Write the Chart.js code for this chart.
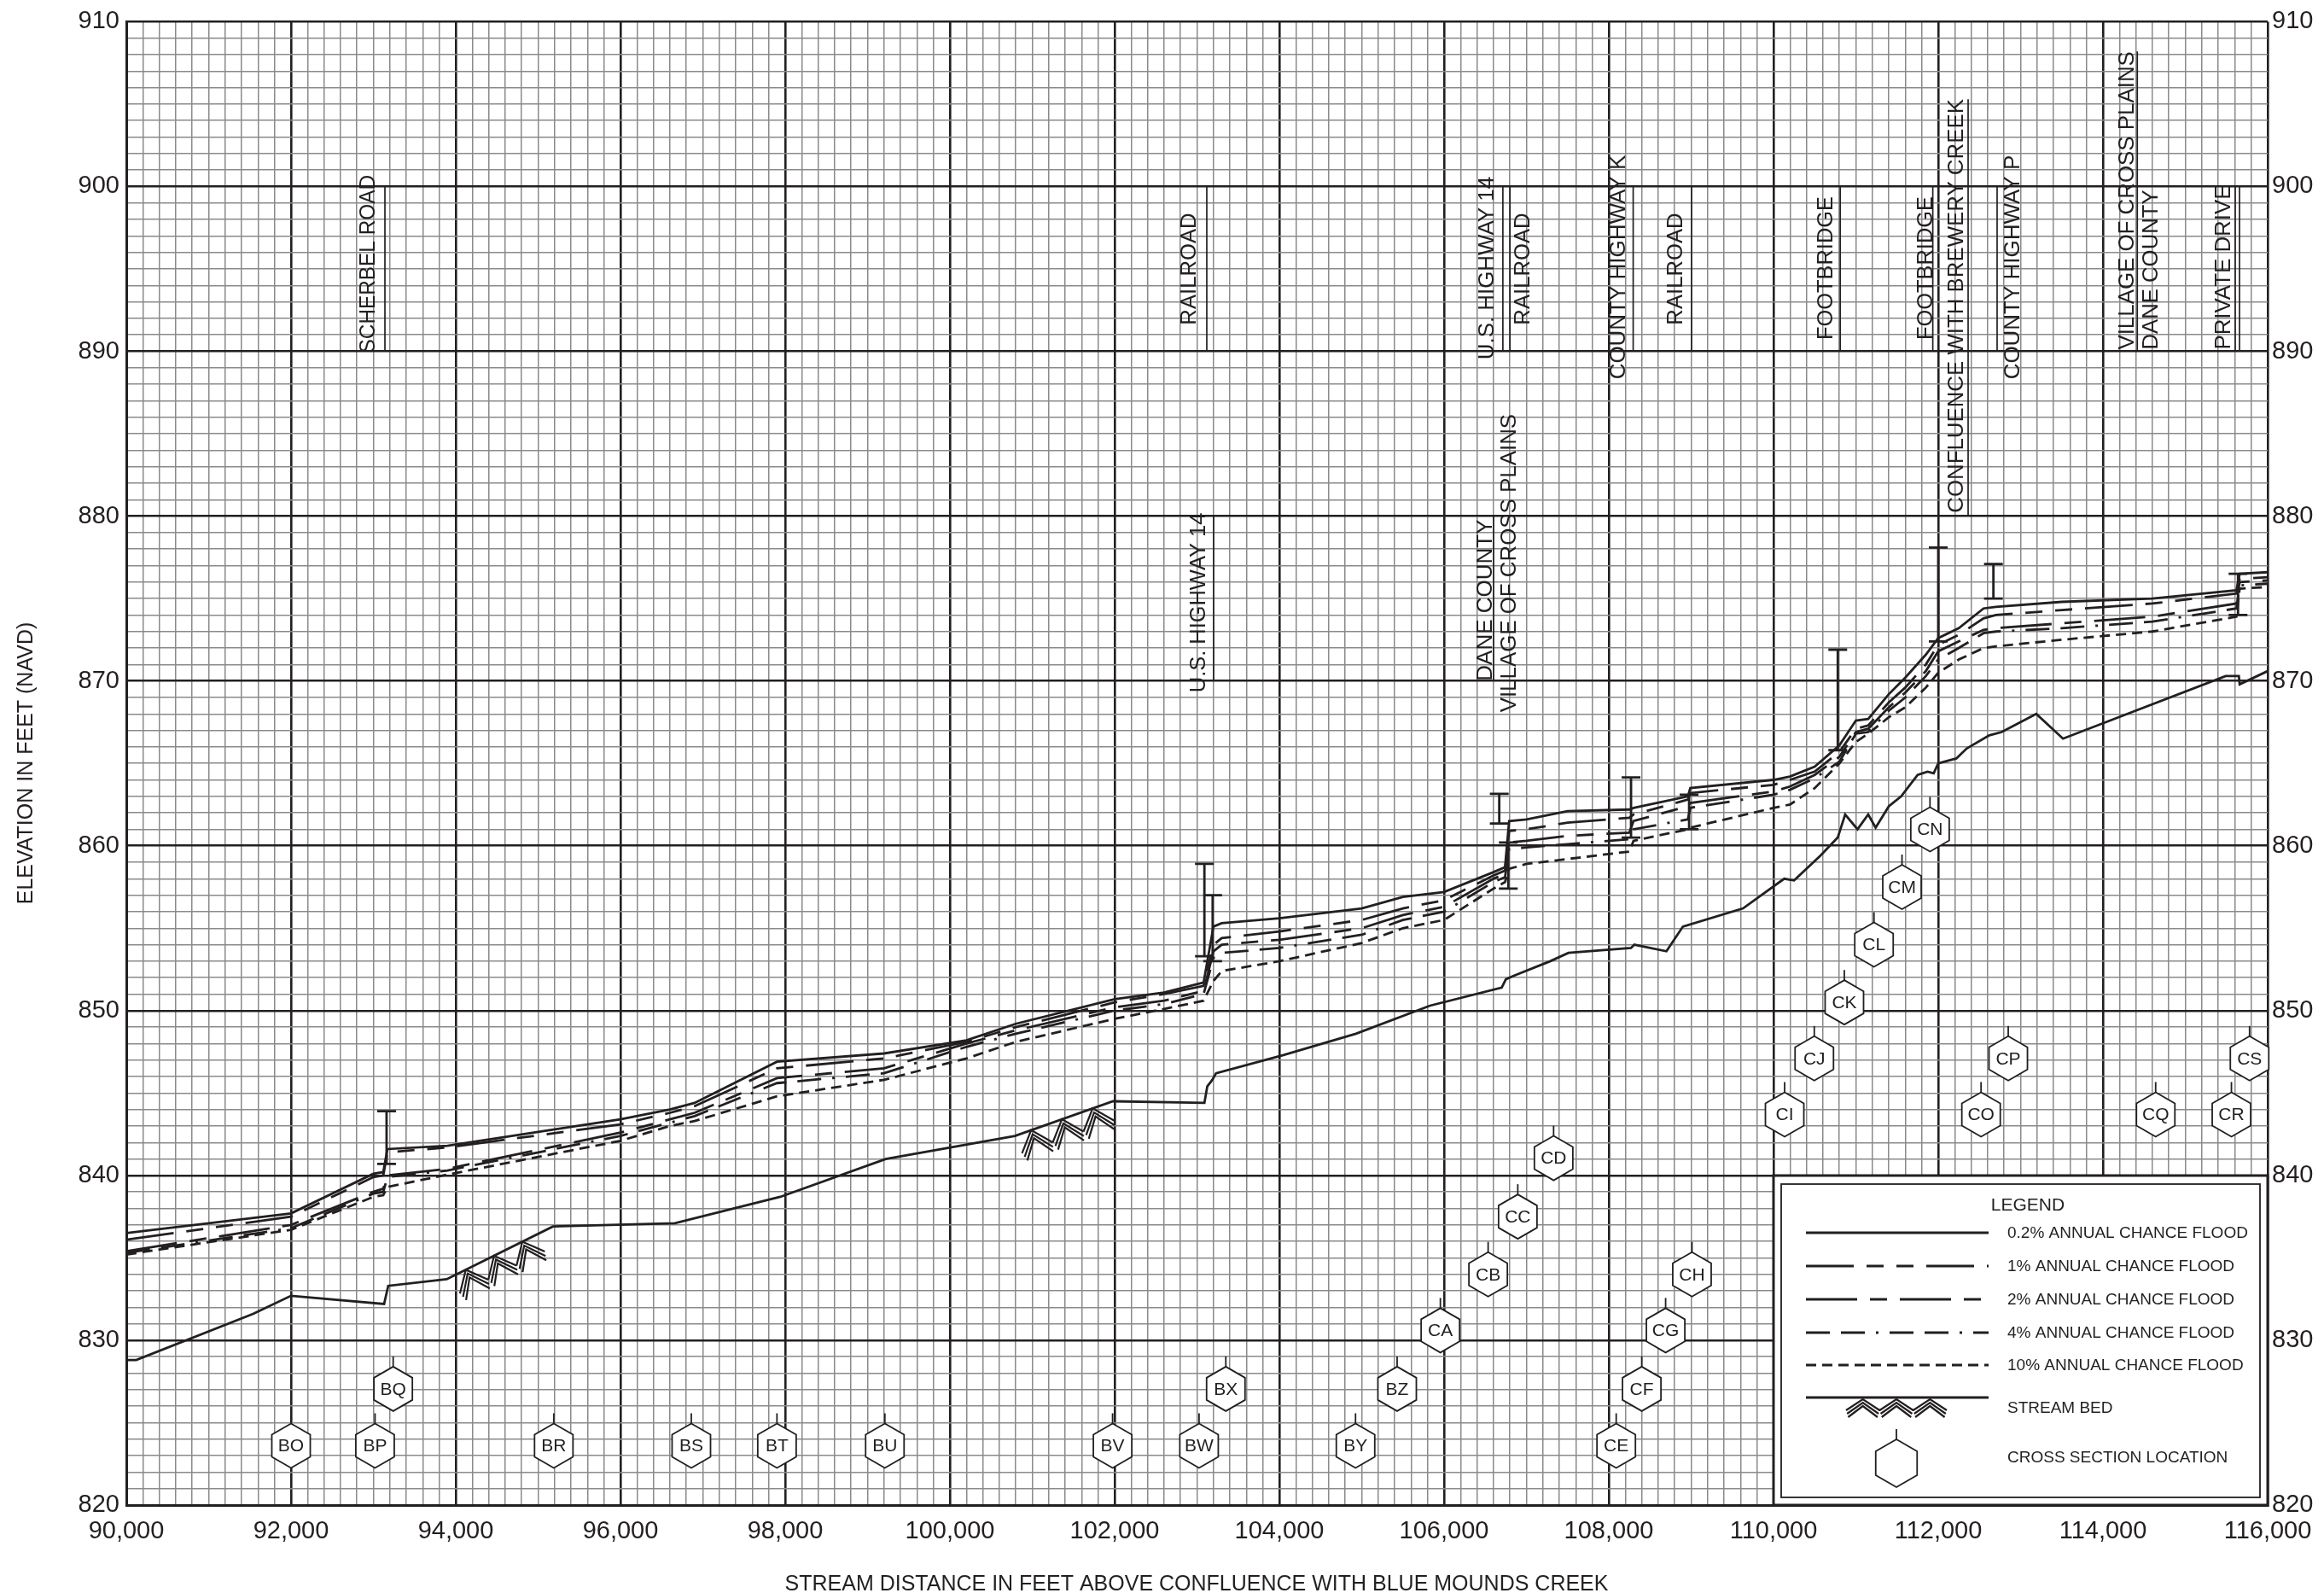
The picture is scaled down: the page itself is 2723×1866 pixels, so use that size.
<!DOCTYPE html>
<html>
<head>
<meta charset="utf-8">
<title>Flood Profile - Stream Distance 90,000 to 116,000</title>
<script src="https://cdn.jsdelivr.net/npm/chart.js@4.4.1/dist/chart.umd.min.js"></script>
<style>
  html, body { margin: 0; padding: 0; background: #ffffff; }
  #wrap { width: 2723px; height: 1866px; }
</style>
</head>
<body>
<div id="wrap"><canvas id="profileChart" width="2723" height="1866"></canvas></div>
<script>
// profile stations (feet above confluence) shared by the five flood profiles
const profX = [90000, 92000, 93000, 93120, 93170, 93900, 96000, 96600, 96900, 97900,
  99200, 100200, 100800, 102000, 102600, 103080, 103200, 103300, 104000, 105000,
  105500, 106000, 106600, 106740, 106790, 107000, 107500, 108250, 108300, 108960,
  108990, 110000, 110200, 110500, 110800, 111000, 111150, 111400, 111600, 111850,
  112000, 112250, 112550, 112700, 113500, 114600, 115620, 115660, 116000];

const flood02 = [836.5, 837.7, 840.1, 840.2, 841.6, 841.8, 843.4, 844.0, 844.4, 846.9,
  847.4, 848.2, 849.2, 850.7, 851.1, 851.7, 855.1, 855.3, 855.6, 856.2,
  856.9, 857.2, 858.4, 858.7, 861.5, 861.6, 862.1, 862.2, 862.3, 863.0,
  863.5, 864.0, 864.2, 864.8, 866.1, 867.6, 867.7, 869.2, 870.2, 871.6,
  872.6, 873.2, 874.4, 874.5, 874.8, 875.0, 875.5, 876.5, 876.6];

const flood1 = [836.1, 837.5, 839.9, 840.0, 841.4, 841.7, 843.1, 843.8, 844.2, 846.5,
  847.1, 848.1, 849.0, 850.5, 851.0, 851.5, 854.0, 854.4, 854.8, 855.5,
  856.2, 856.7, 858.2, 858.5, 860.9, 861.0, 861.4, 861.7, 861.9, 862.8,
  863.2, 863.7, 864.0, 864.5, 865.7, 867.1, 867.3, 868.7, 869.6, 871.0,
  872.2, 872.8, 873.8, 874.0, 874.3, 874.7, 875.3, 876.2, 876.3];

const flood2 = [835.4, 837.0, 839.0, 839.2, 840.0, 840.4, 842.6, 843.4, 843.8, 845.9,
  846.5, 848.0, 848.8, 850.2, 850.6, 851.2, 853.6, 854.0, 854.3, 855.0,
  855.8, 856.3, 858.0, 858.3, 860.2, 860.3, 860.6, 860.8, 861.5, 862.4,
  862.6, 863.3, 863.6, 864.3, 865.4, 866.9, 867.1, 868.4, 869.3, 870.6,
  871.8, 872.4, 873.1, 873.2, 873.5, 873.9, 874.7, 876.0, 876.1];

const flood4 = [835.3, 836.8, 838.9, 839.0, 839.9, 840.3, 842.4, 843.2, 843.6, 845.6,
  846.2, 847.8, 848.6, 850.0, 850.4, 851.0, 853.2, 853.5, 853.8, 854.6,
  855.5, 856.0, 857.8, 858.1, 859.8, 859.9, 860.1, 860.4, 861.0, 861.6,
  862.3, 863.1, 863.4, 864.1, 865.1, 866.8, 866.9, 868.2, 869.0, 870.3,
  871.3, 872.0, 872.9, 873.0, 873.2, 873.6, 874.4, 875.8, 875.9];

const flood10 = [835.2, 836.7, 838.7, 838.8, 839.3, 840.05, 842.1, 843.0, 843.3, 844.8,
  845.8, 847.1, 848.1, 849.5, 850.1, 850.6, 851.8, 852.4, 853.0, 854.1,
  855.0, 855.5, 857.4, 857.8, 858.6, 858.9, 859.2, 859.65, 860.3, 861.0,
  861.1, 862.3, 862.5, 863.5, 865.0, 866.3, 866.8, 867.8, 868.4, 869.6,
  870.5, 871.3, 872.0, 872.1, 872.5, 873.0, 873.9, 875.6, 875.7];

// stream bed
const bedX = [90000, 90120, 91540, 92000, 93130, 93180, 93890, 95180, 96660, 97940,
  99220, 100790, 101980, 103090, 103125, 103186, 103232, 104050, 104930, 105830,
  106700, 106750, 106840, 107290, 107510, 108270, 108310, 108700, 108900, 109630,
  110130, 110250, 110570, 110780, 110870, 111020, 111150, 111240, 111400, 111550,
  111750, 111870, 111945, 112000, 112220, 112345, 112620, 112770, 113190, 113515,
  115490, 115650, 115660, 116000];
const bedY = [828.8, 828.8, 831.6, 832.7, 832.2, 833.3, 833.7, 836.9, 837.1, 838.7,
  841.0, 842.4, 844.5, 844.4, 845.4, 845.8, 846.2, 847.3, 848.6, 850.3,
  851.4, 851.9, 852.1, 853.0, 853.5, 853.8, 854.0, 853.6, 855.1, 856.2,
  858.0, 857.9, 859.4, 860.5, 861.9, 861.0, 861.9, 861.1, 862.4, 863.0,
  864.3, 864.5, 864.4, 865.0, 865.3, 865.9, 866.7, 866.9, 868.0, 866.5,
  870.3, 870.3, 869.8, 870.6];

// stream bed symbols (start / end stations)
const hatchFrom = [93950, 100800];
const hatchTo = [94980, 101920];

// axis tick labels
const xTickLabels = [90000, 92000, 94000, 96000, 98000, 100000, 102000, 104000, 106000, 108000, 110000, 112000, 114000, 116000];
const yTickLabels = [820, 830, 840, 850, 860, 870, 880, 890, 900, 910];

// cross sections
const sectionIds = ['BO', 'BP', 'BQ', 'BR', 'BS', 'BT', 'BU', 'BV', 'BW', 'BX', 'BY', 'BZ',
  'CA', 'CB', 'CC', 'CD', 'CE', 'CF', 'CG', 'CH', 'CI', 'CJ', 'CK', 'CL', 'CM', 'CN',
  'CO', 'CP', 'CQ', 'CR', 'CS'];
const sectionX = [92000, 93020, 93240, 95190, 96860, 97900, 99210, 101975, 103025, 103350, 104925, 105430,
  105955, 106535, 106895, 107330, 108090, 108400, 108690, 109010, 110135, 110495, 110860, 111220, 111560, 111900,
  112520, 112850, 114640, 115560, 115780];
const sectionElev = [823.6, 823.6, 827.05, 823.6, 823.6, 823.6, 823.6, 823.6, 823.6, 827.05, 823.6, 827.05,
  830.6, 834.0, 837.5, 841.05, 823.6, 827.05, 830.6, 834.0, 843.7, 847.1, 850.5, 854.0, 857.5, 861.0,
  843.7, 847.1, 843.7, 843.7, 847.1];

// structures drawn as I-bars
const bridgeX = [93160, 103090, 103190, 106670, 106780, 108270, 108975, 110780, 112000, 112670, 115640];
const bridgeTop = [843.9, 858.9, 857.0, 863.15, 860.2, 864.15, 863.1, 871.9, 878.1, 877.1, 876.5];
const bridgeBottom = [840.7, 853.3, 853.0, 861.35, 857.4, 860.5, 861.0, 865.8, 872.4, 875.0, 874.0];

// structure / limit labels
const labelText = ['SCHERBEL ROAD', 'RAILROAD', 'U.S. HIGHWAY 14', 'U.S. HIGHWAY 14', 'RAILROAD',
  'DANE COUNTY', 'VILLAGE OF CROSS PLAINS', 'COUNTY HIGHWAY K', 'RAILROAD', 'FOOTBRIDGE',
  'FOOTBRIDGE', 'CONFLUENCE WITH BREWERY CREEK', 'COUNTY HIGHWAY P', 'VILLAGE OF CROSS PLAINS',
  'DANE COUNTY', 'PRIVATE DRIVE'];
const labelX = [92933, 102902, 103016, 106515, 106953, 106497, 106788, 108114, 108808, 110629,
  111842, 112220, 112896, 114287, 114580, 115461];
const labelFrom = [889.9, 891.6, 869.3, 889.5, 891.6, 870.0, 868.1, 888.3, 891.6, 890.7,
  890.7, 880.2, 888.3, 890.1, 890.1, 890.1];
const labelTo = [900.7, 898.4, 880.2, 900.6, 898.4, 879.8, 886.2, 901.9, 898.4, 899.4,
  899.4, 905.3, 901.9, 908.2, 899.8, 900.1];

const leaderX = [93140, 103119, 103202, 106714, 106800, 106601, 108296, 109005, 110810, 111934, 112363, 112715, 114417, 115606, 115658];
const leaderFrom = [890, 890, 870, 890, 890, 870, 890, 890, 890, 890, 880, 890, 890, 890, 890];
const leaderTo = [900, 900, 880, 900, 900, 880, 900, 900, 900, 900, 905.3, 900, 908.2, 900, 900];

const INK = '#231f20';
const FONT = '"Liberation Sans", Arial, Helvetica, sans-serif';

const pairs = (xs, ys) => xs.map((v, i) => ({ x: v, y: ys[i] }));

const floodStyles = [
  { label: '0.2% ANNUAL CHANCE FLOOD', values: flood02, dash: [] },
  { label: '1% ANNUAL CHANCE FLOOD', values: flood1, dash: [56, 15, 20, 15, 20, 15] },
  { label: '2% ANNUAL CHANCE FLOOD', values: flood2, dash: [60, 15, 20, 15] },
  { label: '4% ANNUAL CHANCE FLOOD', values: flood4, dash: [28, 13, 28, 13, 3, 13] },
  { label: '10% ANNUAL CHANCE FLOOD', values: flood10, dash: [12, 7] }
];

function drawHatch(ctx, x1, y1, x2, y2, depth, gap) {
  const dx = x2 - x1, dy = y2 - y1;
  const len = Math.hypot(dx, dy);
  const ux = dx / len, uy = dy / len;
  const nx = -uy, ny = ux; // points below the line
  const at = (s, d) => [x1 + ux * s + nx * d, y1 + uy * s + ny * d];
  ctx.beginPath();
  for (let i = 0; i < 3; i++) {
    const a = len * i / 3, m = len * (i + 0.5) / 3, b = len * (i + 1) / 3;
    for (let k = 0; k < 3; k++) {
      const off = k * gap;
      const p1 = at(a + off * 0.3, depth + off);
      const p2 = at(m, off);
      const p3 = at(b - off * 0.3, depth + off);
      ctx.moveTo(p1[0], p1[1]);
      ctx.lineTo(p2[0], p2[1]);
      ctx.lineTo(p3[0], p3[1]);
    }
  }
  ctx.stroke();
}

function drawHex(ctx, cx, cy, r, text) {
  ctx.beginPath();
  for (let i = 0; i < 6; i++) {
    const ang = -Math.PI / 2 + i * Math.PI / 3;
    const hx = cx + r * Math.cos(ang), hy = cy + r * Math.sin(ang);
    if (i === 0) ctx.moveTo(hx, hy); else ctx.lineTo(hx, hy);
  }
  ctx.closePath();
  ctx.fillStyle = '#ffffff';
  ctx.fill();
  ctx.lineWidth = 1.8;
  ctx.strokeStyle = INK;
  ctx.stroke();
  ctx.beginPath();
  ctx.moveTo(cx, cy - r);
  ctx.lineTo(cx, cy - r - 12);
  ctx.stroke();
  if (text) {
    ctx.fillStyle = INK;
    ctx.font = '21px ' + FONT;
    ctx.textAlign = 'center';
    ctx.textBaseline = 'middle';
    ctx.fillText(text, cx, cy + 1);
  }
}

function bedAt(v) {
  for (let i = 1; i < bedX.length; i++) {
    if (v <= bedX[i]) {
      const t = (v - bedX[i - 1]) / (bedX[i] - bedX[i - 1]);
      return bedY[i - 1] + t * (bedY[i] - bedY[i - 1]);
    }
  }
  return bedY[bedY.length - 1];
}

const decorPlugin = {
  id: 'profileDecor',
  afterDatasetsDraw(chart) {
    const { ctx, scales: { x, y } } = chart;
    const px = v => x.getPixelForValue(v);
    const py = v => y.getPixelForValue(v);
    ctx.save();
    ctx.strokeStyle = INK;
    ctx.fillStyle = INK;

    // stream bed symbols
    ctx.lineWidth = 2.2;
    hatchFrom.forEach((from, i) => {
      drawHatch(ctx, px(from), py(bedAt(from)), px(hatchTo[i]), py(bedAt(hatchTo[i])), 22, 5);
    });

    // I-bars at structures
    ctx.lineWidth = 2.8;
    bridgeX.forEach((bx, i) => {
      const cx = px(bx), t = py(bridgeTop[i]), b = py(bridgeBottom[i]);
      ctx.beginPath();
      ctx.moveTo(cx, t); ctx.lineTo(cx, b);
      ctx.moveTo(cx - 11, t); ctx.lineTo(cx + 11, t);
      ctx.moveTo(cx - 11, b); ctx.lineTo(cx + 11, b);
      ctx.stroke();
    });

    // leader lines next to labels
    ctx.lineWidth = 1.7;
    leaderX.forEach((lx, i) => {
      ctx.beginPath();
      ctx.moveTo(px(lx), py(leaderFrom[i]));
      ctx.lineTo(px(lx), py(leaderTo[i]));
      ctx.stroke();
    });

    // vertical labels
    ctx.font = '26px ' + FONT;
    ctx.textAlign = 'left';
    ctx.textBaseline = 'middle';
    labelText.forEach((t, i) => {
      const base = py(labelFrom[i]);
      const span = base - py(labelTo[i]);
      ctx.save();
      ctx.translate(px(labelX[i]), base);
      ctx.rotate(-Math.PI / 2);
      ctx.fillText(t, 0, 1, span);
      ctx.restore();
    });

    // cross section markers
    sectionIds.forEach((id, i) => {
      drawHex(ctx, px(sectionX[i]), py(sectionElev[i]), 26, id);
    });

    // legend box
    const L = 2078, T = 1377, R = 2657, B = 1763;
    ctx.fillStyle = '#ffffff';
    ctx.fillRect(L, T, R - L, B - T);
    ctx.strokeStyle = INK;
    ctx.lineWidth = 3;
    ctx.strokeRect(L, T, R - L, B - T);
    ctx.lineWidth = 1.8;
    ctx.strokeRect(L + 9, T + 10, R - L - 18, B - T - 19);

    ctx.fillStyle = INK;
    ctx.textAlign = 'center';
    ctx.textBaseline = 'middle';
    ctx.font = '21px ' + FONT;
    ctx.fillText('LEGEND', 2376, 1412);

    const rowY = [1444, 1483, 1522, 1561, 1599];
    ctx.textAlign = 'left';
    ctx.font = '19px ' + FONT;
    floodStyles.forEach((f, i) => {
      ctx.save();
      ctx.lineWidth = 2.8;
      ctx.setLineDash(f.dash);
      ctx.beginPath();
      ctx.moveTo(2116, rowY[i]);
      ctx.lineTo(2330, rowY[i]);
      ctx.stroke();
      ctx.restore();
      ctx.fillText(f.label, 2352, rowY[i] + 1);
    });
    ctx.lineWidth = 2.8;
    ctx.beginPath();
    ctx.moveTo(2116, 1637);
    ctx.lineTo(2330, 1637);
    ctx.stroke();
    ctx.lineWidth = 2.2;
    drawHatch(ctx, 2163, 1639, 2281, 1639, 13, 4);
    ctx.fillText('STREAM BED', 2352, 1650);
    drawHex(ctx, 2222, 1714, 28, '');
    ctx.fillStyle = INK;
    ctx.font = '19px ' + FONT;
    ctx.textAlign = 'left';
    ctx.textBaseline = 'middle';
    ctx.fillText('CROSS SECTION LOCATION', 2352, 1708);

    // axis titles
    ctx.font = '25px ' + FONT;
    ctx.textAlign = 'center';
    ctx.textBaseline = 'middle';
    ctx.fillText('STREAM DISTANCE IN FEET ABOVE CONFLUENCE WITH BLUE MOUNDS CREEK', 1402, 1856);
    ctx.save();
    ctx.translate(31, 894);
    ctx.rotate(-Math.PI / 2);
    ctx.fillText('ELEVATION IN FEET (NAVD)', 0, 0);
    ctx.restore();

    ctx.restore();
  }
};

const isMajorX = v => Math.round(v) % 2000 === 0;
const isMajorY = v => Math.round(v) % 10 === 0;

const datasets = floodStyles.map(f => ({
  label: f.label,
  data: pairs(profX, f.values),
  borderColor: INK,
  borderWidth: 2.8,
  borderDash: f.dash,
  pointRadius: 0,
  tension: 0,
  fill: false
}));
datasets.push({
  label: 'STREAM BED',
  data: pairs(bedX, bedY),
  borderColor: INK,
  borderWidth: 2.8,
  pointRadius: 0,
  tension: 0,
  fill: false
});

Chart.defaults.font.family = FONT;
Chart.defaults.color = INK;

new Chart(document.getElementById('profileChart'), {
  type: 'line',
  data: { datasets },
  options: {
    responsive: false,
    devicePixelRatio: 1,
    animation: false,
    events: [],
    layout: { padding: { top: 24, left: 0, right: 0, bottom: 0 } },
    plugins: {
      legend: { display: false },
      tooltip: { enabled: false }
    },
    scales: {
      x: {
        type: 'linear',
        min: 90000,
        max: 116000,
        afterFit: scale => { scale.height = 103; },
        border: { display: true, color: INK, width: 3 },
        grid: {
          drawTicks: false,
          color: c => isMajorX(c.tick.value) ? INK : '#8a8a8a',
          lineWidth: c => isMajorX(c.tick.value) ? 2.6 : 1.5
        },
        ticks: {
          stepSize: 200,
          autoSkip: false,
          maxTicksLimit: 500,
          maxRotation: 0,
          padding: 14,
          font: { size: 29 },
          color: INK,
          callback: v => xTickLabels.includes(Math.round(v)) ? Math.round(v).toLocaleString('en-US') : ''
        }
      },
      y: {
        type: 'linear',
        position: 'left',
        min: 820,
        max: 910,
        afterFit: scale => { scale.width = 148; },
        border: { display: true, color: INK, width: 3 },
        grid: {
          drawTicks: false,
          color: c => isMajorY(c.tick.value) ? INK : '#8a8a8a',
          lineWidth: c => isMajorY(c.tick.value) ? 2.6 : 1.5
        },
        ticks: {
          stepSize: 1,
          autoSkip: false,
          maxTicksLimit: 500,
          padding: 8,
          font: { size: 29 },
          color: INK,
          callback: v => yTickLabels.includes(Math.round(v)) ? String(Math.round(v)) : ''
        }
      },
      yRight: {
        type: 'linear',
        position: 'right',
        min: 820,
        max: 910,
        afterFit: scale => { scale.width = 66; },
        border: { display: false },
        grid: { display: false, drawTicks: false },
        ticks: {
          stepSize: 10,
          padding: 5,
          font: { size: 29 },
          color: INK,
          callback: v => yTickLabels.includes(Math.round(v)) ? String(Math.round(v)) : ''
        }
      }
    }
  },
  plugins: [decorPlugin]
});
</script>
</body>
</html>
